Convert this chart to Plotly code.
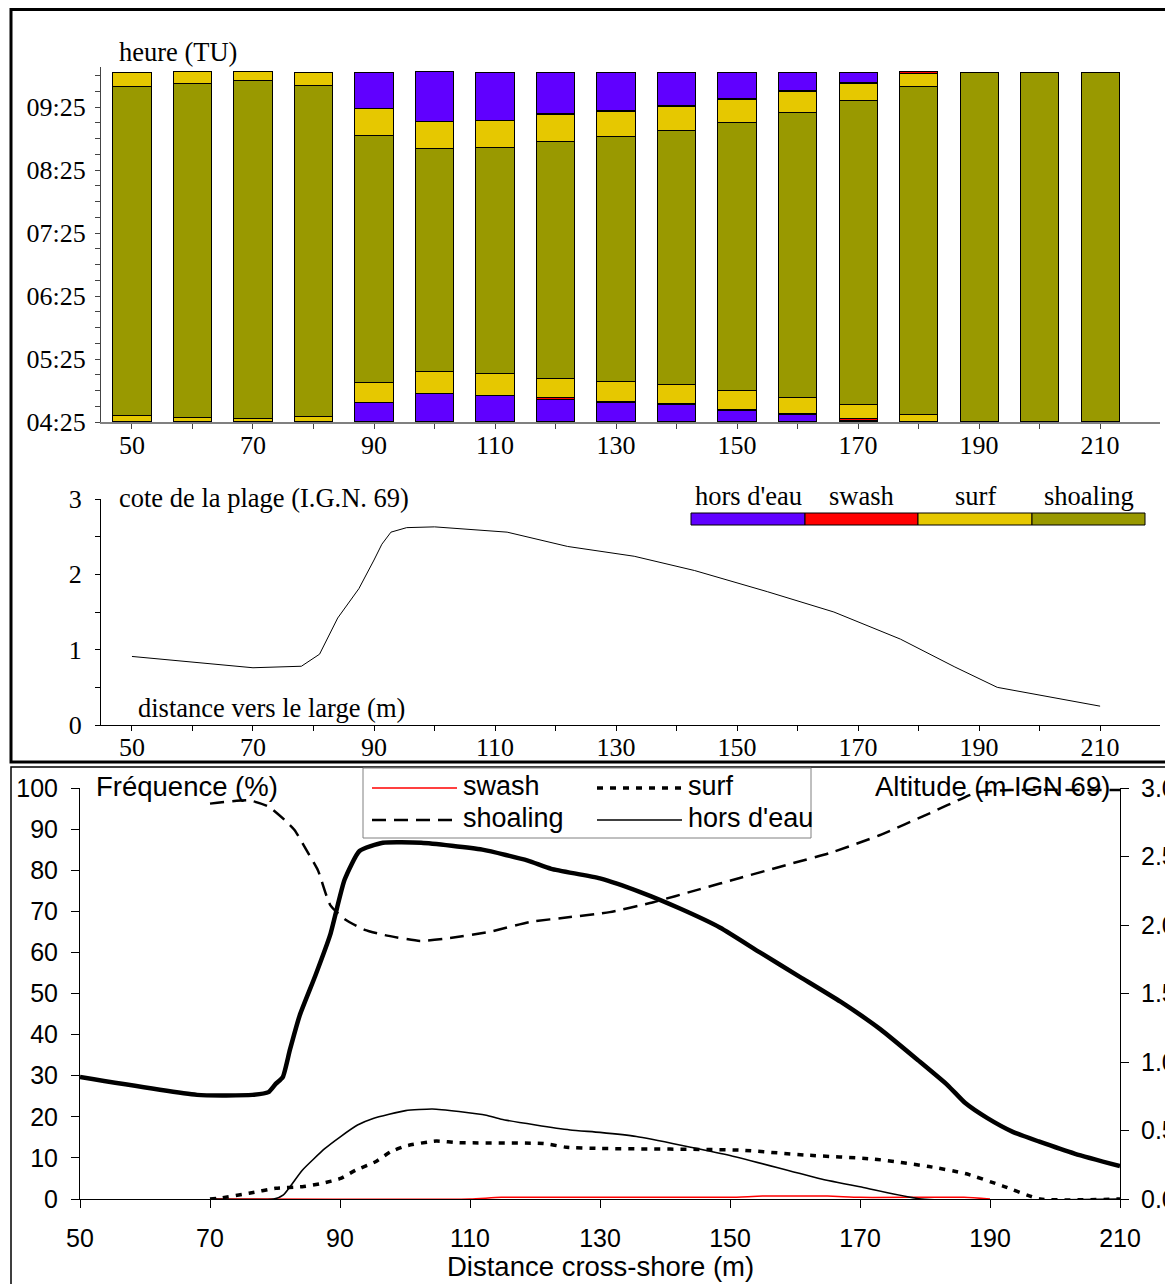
import plotly.graph_objects as go

W, H = 1173, 1284
OFF = 8  # page body margin


def px(x):
    return (x - OFF) / W


def py(y):
    return 1 - (y - OFF) / H


# ---------------- DATA ----------------
# top bar chart: durations (minutes from 04:25) of each state, stacked from bottom
distance_barres = [50, 60, 70, 80, 90, 100, 110, 120, 130, 140, 150, 160, 170, 180, 190, 200, 210]
hors_bas = [0, 0, 0, 0, 18.4, 27.0, 25.7, 21.9, 18.6, 16.9, 10.8, 6.7, 1.0, 0, 0, 0, 0]
swash_bas = [0, 0, 0, 0, 0, 0, 0, 1.0, 1.0, 0.5, 1.2, 1.2, 2.0, 0, 0, 0, 0]
surf_bas = [6.4, 4.5, 2.9, 5.4, 19.4, 20.7, 20.7, 18.7, 19.4, 18.7, 17.8, 15.9, 13.8, 7.0, 0, 0, 0]
shoaling_dur = [313.6, 318.1, 322.2, 315.2, 235.5, 212.4, 215.2, 225.7, 232.7, 241.7, 255.9, 271.4,
                289.8, 312.8, 333.3, 333.3, 333.3]
surf_haut = [13.3, 10.8, 8.3, 12.7, 25.4, 26.0, 26.0, 25.5, 24.4, 22.8, 21.4, 19.3, 15.7, 11.7, 0, 0, 0]
swash_haut = [0, 0, 0, 0, 0, 0, 0, 1.2, 1.0, 1.0, 1.2, 1.0, 1.2, 1.9, 0, 0, 0]
hors_haut = [0, 0, 0, 0, 34.6, 47.3, 45.7, 39.3, 36.2, 31.7, 25.0, 17.8, 9.8, 0, 0, 0, 0]

heures_ticks = ["04:25", "05:25", "06:25", "07:25", "08:25", "09:25"]
etats = ["hors d'eau", "swash", "surf", "shoaling"]

# top profile (cote de la plage)
dist_profil = [50, 70, 78, 81, 84, 87.5, 90, 91.3, 92.8, 95.4, 100, 112, 122, 133, 143, 155, 166, 177,
               186, 193, 210]
cote = [0.91, 0.76, 0.78, 0.94, 1.42, 1.81, 2.19, 2.40, 2.56, 2.62, 2.63, 2.56, 2.37, 2.24, 2.05, 1.77,
        1.50, 1.14, 0.77, 0.50, 0.25]

# bottom chart: frequencies (%)
dist_shoal = [70, 76, 79, 81.5, 83, 84.8, 86.6, 88.5, 90.8, 93.8, 96.9, 102.3, 106.9, 113, 119.2, 125.4,
              131.5, 137.7, 145.4, 151.5, 159.2, 165.4, 173, 180.8, 186.2, 188.2, 193, 210]
freq_shoal = [96.2, 97, 95.5, 92.2, 89.8, 85, 80, 71.5, 68, 65.5, 64.2, 62.8, 63.5, 65, 67.4, 68.6,
              69.8, 72, 75.4, 78.1, 81.5, 84.2, 88.5, 93.9, 97.8, 99, 99.5, 99.5]

dist_surf = [70, 71.8, 76, 80.1, 84.2, 87.2, 90.1, 92.4, 95.4, 97.8, 100.1, 104.8, 108.3, 121.3, 124.8,
             130, 151.4, 161.5, 172.2, 180.6, 186.2, 191.9, 197.7, 210]
freq_surf = [0, 0.3, 1.4, 2.6, 3.0, 3.8, 5.0, 7.0, 9.0, 11.5, 12.9, 14.1, 13.7, 13.5, 12.6, 12.3, 11.9,
             10.7, 9.7, 7.9, 6.2, 3.2, 0, 0]

dist_hors = [70, 79.8, 81.3, 84.2, 87.7, 90.1, 92.7, 95.1, 100.1, 104.2, 108.3, 112.5, 114.8, 120.1,
             125.4, 130, 135.6, 149.7, 163.7, 170.5, 179.5, 210]
freq_hors = [0, 0, 1, 7, 12.3, 15.2, 18, 19.6, 21.5, 21.9, 21.3, 20.4, 19.4, 18, 16.8, 16.2, 15.2,
             10.7, 5, 2.8, 0, 0]

dist_swash = [70, 110, 114.8, 150, 155, 165, 170, 186, 190]
freq_swash = [0, 0, 0.4, 0.4, 0.7, 0.7, 0.4, 0.4, 0]

# bottom chart: altitude (m IGN 69)
dist_alt = [50, 68, 76.5, 79, 80.1, 81.2, 82.3, 83.8, 86.2, 88.5, 90.7, 93, 96.6, 102.5, 111.9, 118.9,
            122.5, 130, 136.2, 142.3, 148.5, 154.6, 160.8, 167, 173.1, 179, 183.5, 186.2, 189.6, 193.5,
            197.5, 203.1, 210]
altitude = [0.89, 0.76, 0.76, 0.78, 0.84, 0.89, 1.09, 1.34, 1.63, 1.93, 2.33, 2.54, 2.60, 2.60, 2.55,
            2.47, 2.41, 2.34, 2.24, 2.12, 1.98, 1.80, 1.62, 1.44, 1.24, 1.01, 0.83, 0.70, 0.59, 0.49,
            0.42, 0.33, 0.24]

# ---------------- STYLE ----------------
VIOLET = "#6000FF"
ROUGE = "#FF0000"
JAUNE = "#E6C800"
OLIVE = "#999900"
SERIF = "Liberation Serif"
SANS = "Liberation Sans"

fig = go.Figure()

segments = [
    (hors_bas, VIOLET), (swash_bas, ROUGE), (surf_bas, JAUNE), (shoaling_dur, OLIVE),
    (surf_haut, JAUNE), (swash_haut, ROUGE), (hors_haut, VIOLET),
]
for vals, col in segments:
    fig.add_trace(go.Bar(
        x=distance_barres, y=[v if v > 0 else None for v in vals], width=6.3,
        marker=dict(color=col, line=dict(color="black", width=1)),
        xaxis="x", yaxis="y", showlegend=False, hoverinfo="skip"))

fig.add_trace(go.Scatter(x=dist_profil, y=cote, mode="lines", line=dict(color="black", width=1),
                         xaxis="x2", yaxis="y2", showlegend=False))

fig.add_trace(go.Scatter(x=dist_swash, y=freq_swash, mode="lines",
                         line=dict(color=ROUGE, width=1.5, shape="spline", smoothing=0.5),
                         xaxis="x3", yaxis="y3", showlegend=False))
fig.add_trace(go.Scatter(x=dist_hors, y=freq_hors, mode="lines",
                         line=dict(color="black", width=1.6, shape="spline", smoothing=0.5),
                         xaxis="x3", yaxis="y3", showlegend=False))
fig.add_trace(go.Scatter(x=dist_surf, y=freq_surf, mode="lines",
                         line=dict(color="black", width=3.5, dash="6px,7px", shape="spline", smoothing=0.5),
                         xaxis="x3", yaxis="y3", showlegend=False))
fig.add_trace(go.Scatter(x=dist_shoal, y=freq_shoal, mode="lines",
                         line=dict(color="black", width=2.5, dash="14px,8px", shape="spline", smoothing=0.5),
                         xaxis="x3", yaxis="y3", showlegend=False))
fig.add_trace(go.Scatter(x=dist_alt, y=altitude, mode="lines",
                         line=dict(color="black", width=4.5, shape="spline", smoothing=0.5),
                         xaxis="x3", yaxis="y4", showlegend=False))

ticks10 = list(range(50, 211, 10))
ticklab10 = [str(v) if (v - 50) % 20 == 0 else "" for v in ticks10]
ytick_min = list(range(0, 331, 15))
ytick_lab = [heures_ticks[v // 60] if v % 60 == 0 else "" for v in ytick_min]

serif_font = dict(family=SERIF, size=26, color="black")
serif_title = dict(family=SERIF, size=26.5, color="black")
sans_font = dict(family=SANS, size=25, color="black")
sans_title = dict(family=SANS, size=27.5, color="black")
sans_leg = dict(family=SANS, size=27, color="black")
common = dict(showgrid=False, zeroline=False, fixedrange=True, automargin=False)

fig.update_layout(
    width=W, height=H, autosize=False,
    margin=dict(l=0, r=0, t=0, b=0, pad=0),
    paper_bgcolor="white", plot_bgcolor="rgba(0,0,0,0)",
    barmode="stack",
    xaxis=dict(domain=[px(101), px(1160)], range=[44.88, 219.9], anchor="y",
               showline=True, linecolor="#808080", linewidth=1.5,
               ticks="outside", ticklen=5, tickcolor="#444", ticklabelstandoff=-6,
               tickvals=ticks10, ticktext=ticklab10, tickfont=serif_font, **common),
    yaxis=dict(domain=[py(422), py(66.7)], range=[0, 338.4], anchor="x",
               showline=True, linecolor="#444", linewidth=1,
               ticks="outside", ticklen=5, tickcolor="#444", ticklabelstandoff=4,
               tickvals=ytick_min, ticktext=ytick_lab, tickfont=serif_font, **common),
    xaxis2=dict(domain=[px(101), px(1160)], range=[44.88, 219.9], anchor="y2",
                showline=True, linecolor="black", linewidth=1,
                ticks="outside", ticklen=5, tickcolor="black", ticklabelstandoff=-6,
                tickvals=ticks10, ticktext=ticklab10, tickfont=serif_font, **common),
    yaxis2=dict(domain=[py(725), py(499)], range=[0, 3], anchor="x2",
                showline=True, linecolor="black", linewidth=1,
                ticks="outside", ticklen=5, tickcolor="black", ticklabelstandoff=8,
                tickvals=[0, 0.5, 1, 1.5, 2, 2.5, 3], ticktext=["0", "", "1", "", "2", "", "3"],
                tickfont=serif_font, **common),
    xaxis3=dict(domain=[px(80), px(1120)], range=[50, 210], anchor="y3",
                showline=True, linecolor="black", linewidth=1,
                ticks="outside", ticklen=8, tickcolor="black", ticklabelstandoff=9,
                tickvals=list(range(50, 211, 20)), tickfont=sans_font, **common),
    yaxis3=dict(domain=[py(1199), py(788)], range=[0, 100], anchor="x3",
                showline=True, linecolor="black", linewidth=1,
                ticks="outside", ticklen=8, tickcolor="black", ticklabelstandoff=8,
                tickvals=list(range(0, 101, 10)), tickfont=sans_font, **common),
    yaxis4=dict(overlaying="y3", side="right", anchor="x3", range=[0, 3],
                showline=True, linecolor="black", linewidth=1,
                ticks="outside", ticklen=8, tickcolor="black", ticklabelstandoff=7,
                tickvals=[0, 0.5, 1, 1.5, 2, 2.5, 3],
                ticktext=["0.0", "0.5", "1.0", "1.5", "2.0", "2.5", "3.0"],
                tickfont=sans_font, **common),
    yaxis5=dict(overlaying="y3", side="right", anchor="x3", range=[0, 3],
                showline=False, ticks="inside", ticklen=8, tickcolor="black",
                tickvals=[0, 0.5, 1, 1.5, 2, 2.5, 3], showticklabels=False, **common),
)

shapes = []
# panel frames
shapes.append(dict(type="rect", xref="paper", yref="paper", x0=px(11), x1=px(1195), y0=py(762), y1=py(9.5),
                   line=dict(color="black", width=3), fillcolor="rgba(0,0,0,0)", layer="above"))
shapes.append(dict(type="rect", xref="paper", yref="paper", x0=px(11), x1=px(1195), y0=py(1305), y1=py(767),
                   line=dict(color="black", width=1.5), fillcolor="rgba(0,0,0,0)", layer="above"))
# top legend
leg_cols = [VIOLET, ROUGE, JAUNE, OLIVE]
leg_x = [691, 805, 918, 1032, 1145]
annotations = []
for i, (lab, col) in enumerate(zip(etats, leg_cols)):
    shapes.append(dict(type="rect", xref="paper", yref="paper", x0=px(leg_x[i]), x1=px(leg_x[i + 1]),
                       y0=py(525), y1=py(513), line=dict(color="black", width=1), fillcolor=col,
                       layer="above"))
    annotations.append(dict(text=lab, x=px((leg_x[i] + leg_x[i + 1]) / 2), y=py(496), xref="paper",
                            yref="paper", xanchor="center", yanchor="middle", showarrow=False,
                            font=serif_title))
# bottom legend box
shapes.append(dict(type="rect", xref="paper", yref="paper", x0=px(363), x1=px(811), y0=py(838), y1=py(768),
                   line=dict(color="#808080", width=1), fillcolor="white", layer="above"))
leg_items = [
    ("swash", 372, 788, dict(color=ROUGE, width=1.5)),
    ("surf", 597, 788, dict(color="black", width=3.5, dash="6px,7px")),
    ("shoaling", 372, 820, dict(color="black", width=2.5, dash="14px,8px")),
    ("hors d'eau", 597, 820, dict(color="black", width=1.6)),
]
for lab, x0, yy, ln in leg_items:
    shapes.append(dict(type="line", xref="paper", yref="paper", x0=px(x0), x1=px(x0 + 85),
                       y0=py(yy), y1=py(yy), line=ln, layer="above"))
    annotations.append(dict(text=lab, x=px(x0 + 89), y=py(yy - 2), xref="paper", yref="paper",
                            xanchor="left", yanchor="middle", showarrow=False, font=sans_leg))

# titles
annotations += [
    dict(text="heure (TU)", x=px(117), y=py(52), xanchor="left", yanchor="middle", font=serif_title),
    dict(text="cote de la plage (I.G.N. 69)", x=px(117), y=py(498), xanchor="left", yanchor="middle",
         font=serif_title),
    dict(text="distance vers le large (m)", x=px(136), y=py(708), xanchor="left", yanchor="middle",
         font=serif_title),
    dict(text="Fréquence (%)", x=px(94), y=py(786), xanchor="left", yanchor="middle", font=sans_title),
    dict(text="Altitude (m IGN 69)", x=px(873), y=py(786), xanchor="left", yanchor="middle",
         font=sans_title),
    dict(text="Distance cross-shore (m)", x=px(600), y=py(1266), xanchor="center", yanchor="middle",
         font=sans_title),
]
for a in annotations:
    a.setdefault("xref", "paper")
    a.setdefault("yref", "paper")
    a["showarrow"] = False

fig.update_layout(shapes=shapes, annotations=annotations)
fig.write_html("out.html")
